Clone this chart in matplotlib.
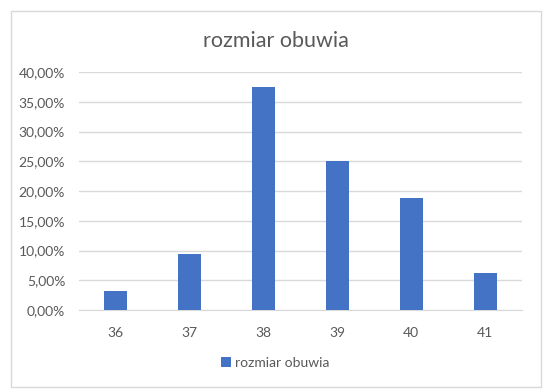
import matplotlib
matplotlib.use("Agg")
import matplotlib.pyplot as plt
from matplotlib.patches import Rectangle
from matplotlib.ticker import FuncFormatter

categories = ["36", "37", "38", "39", "40", "41"]
values = [3.125, 9.375, 37.5, 25.0, 18.75, 6.25]
series_name = "rozmiar obuwia"
title = "rozmiar obuwia"

plt.rcParams['font.family'] = ['Lato', 'DejaVu Sans']
txt = '#595959'

W, H = 551, 392
fig = plt.figure(figsize=(W/100, H/100), dpi=100)
fig.patch.set_facecolor('white')
fig.patches.append(Rectangle((10.5/W, 1-387/H), (541-10.5)/W, (387-11)/H,
                             transform=fig.transFigure, fill=False,
                             edgecolor='#d9d9d9', linewidth=1))

ax = fig.add_axes([79/W, 1-310/H, (522-79)/W, (310-72)/H])
x = range(len(categories))
ax.bar(x, values, width=0.31, color='#4472C4', label=series_name, zorder=3)
ax.set_xlim(-0.5, len(categories)-0.5)
ax.set_ylim(0, 40)
ax.set_yticks([0, 5, 10, 15, 20, 25, 30, 35, 40])
ax.yaxis.set_major_formatter(FuncFormatter(lambda v, p: f"{v:.2f}%".replace('.', ',')))
ax.set_xticks(list(x))
ax.set_xticklabels(categories)
ax.grid(axis='y', color='#d9d9d9', linewidth=1, zorder=0)
for s in ['top', 'right', 'left']:
    ax.spines[s].set_visible(False)
ax.spines['bottom'].set_color('#d9d9d9')
ax.tick_params(axis='both', length=0, colors=txt, labelsize=10)
ax.tick_params(axis='x', pad=12)
ax.tick_params(axis='y', pad=10)

fig.text(275.5/W, 1-41/H, title, ha='center', va='center', fontsize=15.5, color=txt)
leg = fig.legend(loc='center', bbox_to_anchor=(275.5/W, 1-363/H), frameon=False,
                 fontsize=10, handlelength=0.7, handleheight=0.7, handletextpad=0.3)
for t in leg.get_texts():
    t.set_color(txt)

fig.savefig('out.png', dpi=100)
